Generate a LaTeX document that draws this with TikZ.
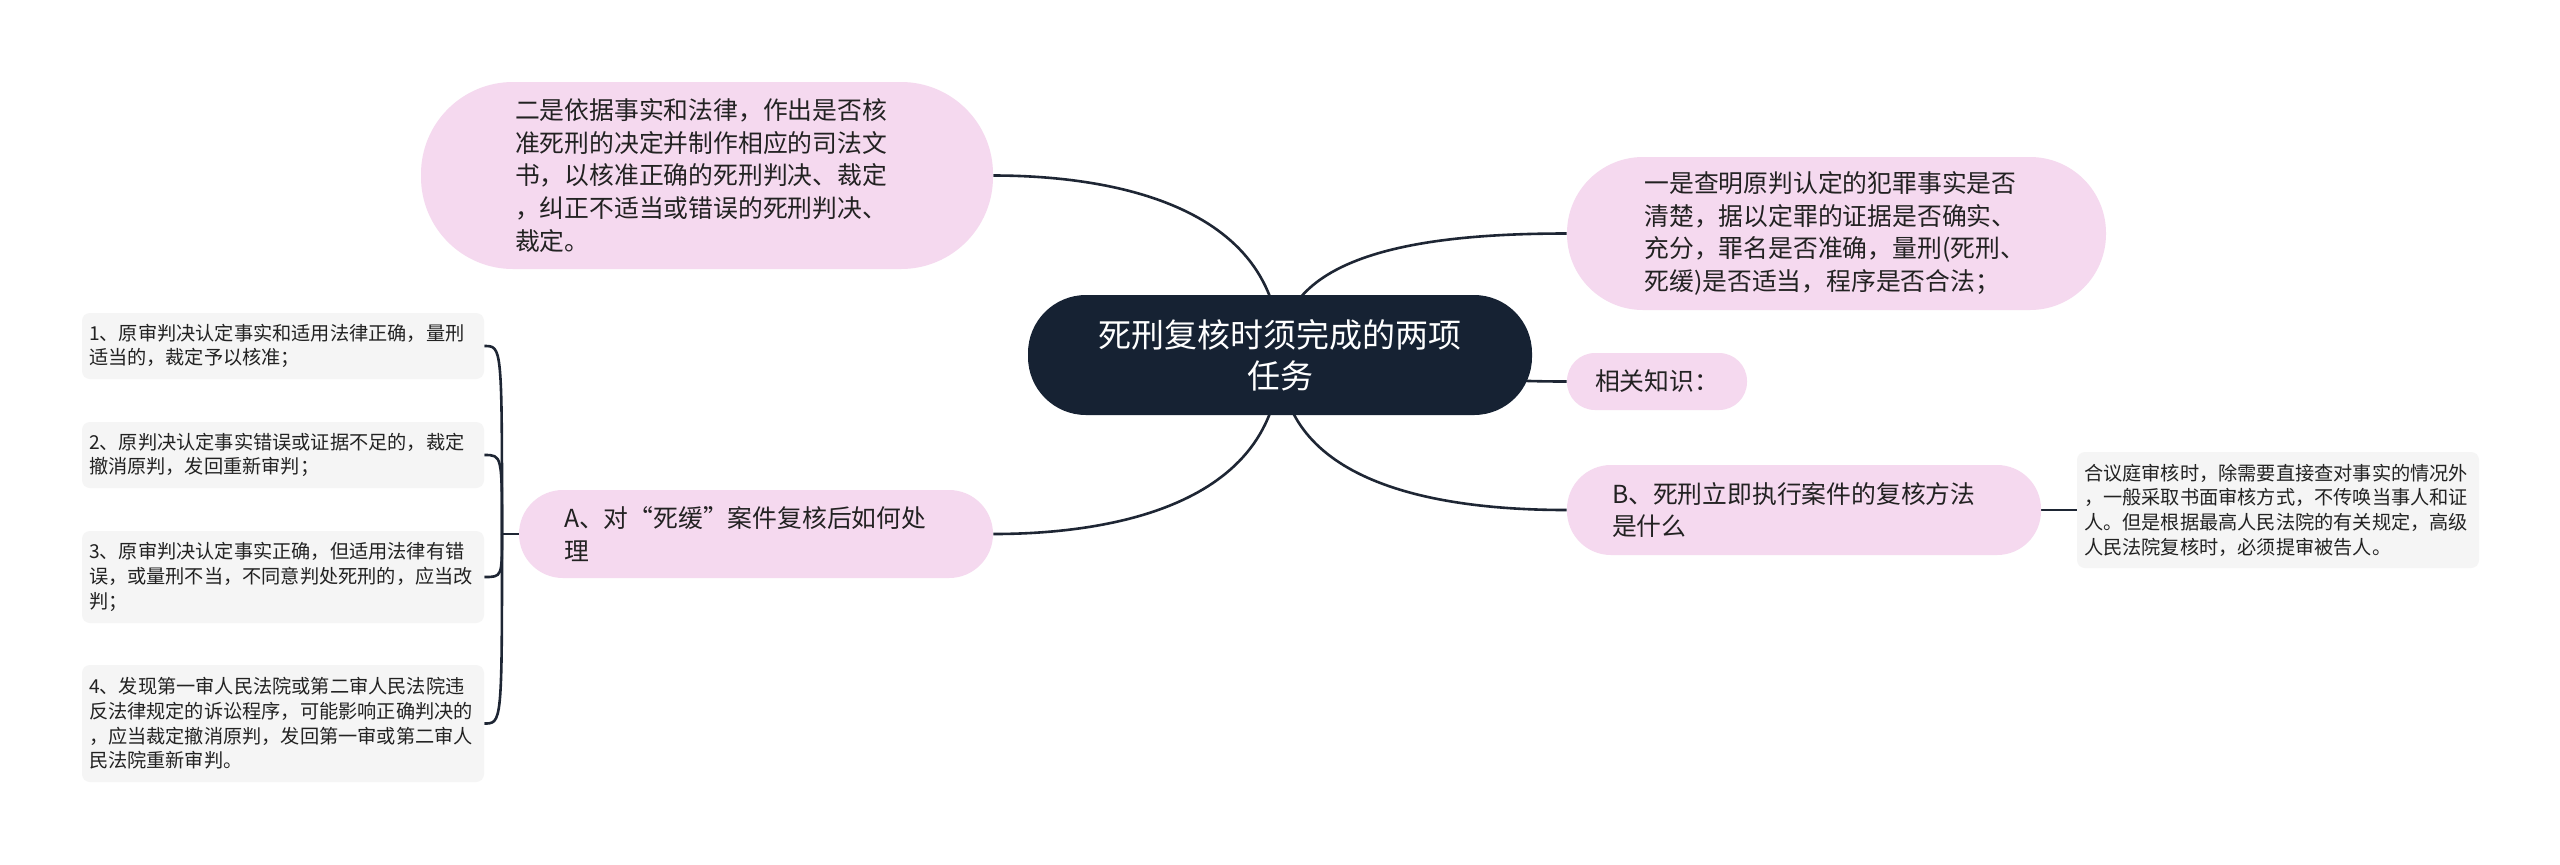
\documentclass[tikz,border=0pt]{standalone}
\usepackage{fontspec}
\setmainfont{Noto Sans CJK SC}
\usepackage{tikz}
\usetikzlibrary{
  positioning,
  backgrounds
}
\definecolor{rootcolor}{RGB}{22, 34, 51}
\definecolor{topiccolor}{RGB}{245, 217, 239}
\definecolor{leafcolor}{RGB}{245, 245, 245}
\definecolor{linecolor}{RGB}{30, 38, 52}
\definecolor{labelcolor}{RGB}{34, 34, 34}
\tikzset{
roottopic/.style={
  fill=rootcolor,
  text=white,
  align=center,
  inner sep=0pt,
  font=\fontsize{16.5}{20.5}\selectfont
},
maintopic/.style={
  fill=topiccolor,
  text=labelcolor,
  align=left,
  inner sep=0pt,
  text width=192pt,
  font=\fontsize{12.4}{16.4}\selectfont
},
subtopic/.style={
  fill=leafcolor,
  rounded corners=4pt,
  text=labelcolor,
  align=left,
  inner sep=0pt,
  text width=194pt,
  minimum width=201pt,
  font=\fontsize{9.6}{12.3}\selectfont
},
branch/.style={
  draw=linecolor,
  line width=1.3pt
}
}
\begin{document}
\begin{tikzpicture}[x=0.5pt,y=-0.5pt]
  \useasboundingbox (0,0) rectangle (2560,864);
  \node[roottopic, minimum width=252pt, minimum height=60pt, rounded corners=29pt] (task) at (1280,355) {死刑复核时须完成的两项\\任务};
  \node[maintopic, minimum width=286pt, minimum height=93.5pt, rounded corners=46pt] (second) at (707,175.5) {二是依据事实和法律，作出是否核\\准死刑的决定并制作相应的司法文\\书，以核准正确的死刑判决、裁定\\，纠正不适当或错误的死刑判决、\\裁定。};
  \node[maintopic, minimum width=269.5pt, minimum height=76.5pt, rounded corners=38pt] (first) at (1836.5,233.5) {一是查明原判认定的犯罪事实是否\\清楚，据以定罪的证据是否确实、\\充分，罪名是否准确，量刑(死刑、\\死缓)是否适当，程序是否合法；};
  \node[maintopic, text width=, align=center, minimum width=90pt, minimum height=28.5pt, rounded corners=14pt] (related) at (1657,381.5) {相关知识：};
  \node[maintopic, minimum width=237pt, minimum height=45pt, rounded corners=22pt] (methodB) at (1804,510) {B、死刑立即执行案件的复核方法\\是什么};
  \node[subtopic, minimum height=58pt] (hearing) at (2278,510) {合议庭审核时，除需要直接查对事实的情况外\\，一般采取书面审核方式，不传唤当事人和证\\人。但是根据最高人民法院的有关规定，高级\\人民法院复核时，必须提审被告人。};
  \node[maintopic, minimum width=237pt, minimum height=44pt, rounded corners=22pt] (caseA) at (756,534) {A、对“死缓”案件复核后如何处\\理};
  \node[subtopic, minimum height=33pt] (res1) at (283,346) {1、原审判决认定事实和适用法律正确，量刑\\适当的，裁定予以核准；};
  \node[subtopic, minimum height=33pt] (res2) at (283,455) {2、原判决认定事实错误或证据不足的，裁定\\撤消原判，发回重新审判；};
  \node[subtopic, minimum height=46pt] (res3) at (283,577) {3、原审判决认定事实正确，但适用法律有错\\误，或量刑不当，不同意判处死刑的，应当改\\判；};
  \node[subtopic, minimum height=58.5pt] (res4) at (283,723.5) {4、发现第一审人民法院或第二审人民法院违\\反法律规定的诉讼程序，可能影响正确判决的\\，应当裁定撤消原判，发回第一审或第二审人\\民法院重新审判。};
  \coordinate (forkA) at (502,534);
  \begin{scope}[on background layer]
    \fill[white] (0,0) rectangle (2560,864);
    \draw[branch] (task.center) .. controls +(0,-155) and +(107,0) .. (second.east);
    \draw[branch] (task.center) .. controls +(0,-100) and +(-150,0) .. (first.west);
    \draw[branch] (task.center) .. controls +(150,26) and +(-30,0) .. (related.west);
    \draw[branch] (task.center) .. controls +(0,120) and +(-150,0) .. (methodB.west);
    \draw[branch] (task.center) .. controls +(0,155) and +(107,0) .. (caseA.east);
    \draw[branch] (methodB.east) -- (hearing.west);
    \draw[branch] (caseA.west) -- (forkA);
    \draw[branch] (forkA) .. controls (forkA |- res1.east) .. (res1.east);
    \draw[branch] (forkA) .. controls (forkA |- res2.east) .. (res2.east);
    \draw[branch] (forkA) .. controls (forkA |- res3.east) .. (res3.east);
    \draw[branch] (forkA) .. controls (forkA |- res4.east) .. (res4.east);
  \end{scope}
\end{tikzpicture}
\end{document}
